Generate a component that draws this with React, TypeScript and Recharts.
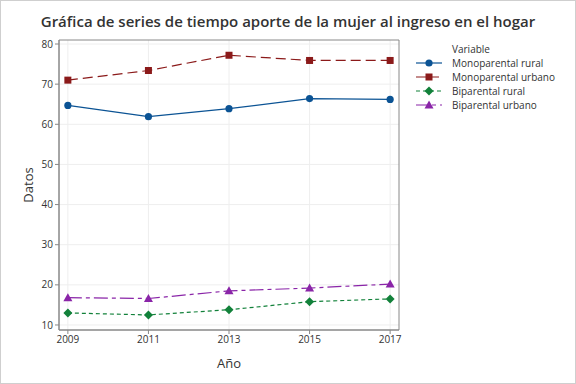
import React from 'react';
import { LineChart, Line, XAxis, YAxis, CartesianGrid, Legend, ReferenceArea, Label } from 'recharts';

const years = [2009, 2011, 2013, 2015, 2017];
const monoRural = [64.7, 61.9, 63.9, 66.4, 66.2];
const monoUrbano = [71.0, 73.4, 77.2, 75.9, 75.9];
const biRural = [13.0, 12.5, 13.8, 15.8, 16.5];
const biUrbano = [16.8, 16.6, 18.5, 19.2, 20.2];
const yTicks = [10, 20, 30, 40, 50, 60, 70, 80];
const seriesNames = ['Monoparental rural', 'Monoparental urbano', 'Biparental rural', 'Biparental urbano'];

const data = years.map((y, i) => ({
  year: y,
  mr: monoRural[i],
  mu: monoUrbano[i],
  br: biRural[i],
  bu: biUrbano[i],
}));

const FONT = '"Open Sans", "Noto Sans", sans-serif';
const TXT = '#333333';

type Shape = 'circle' | 'square' | 'diamond' | 'triangle';

const series: { key: string; name: string; color: string; dash?: string; legendDash?: string; shape: Shape }[] = [
  { key: 'mr', name: seriesNames[0], color: '#0B5394', shape: 'circle' },
  { key: 'mu', name: seriesNames[1], color: '#8B1A1A', dash: '10 5', legendDash: '10 3', shape: 'square' },
  { key: 'br', name: seriesNames[2], color: '#12813A', dash: '4 3', legendDash: '4 3', shape: 'diamond' },
  { key: 'bu', name: seriesNames[3], color: '#8A25A8', dash: '14 4 4 4', legendDash: '12 4 4 4', shape: 'triangle' },
];

function marker(shape: Shape, cx: number, cy: number, color: string, key?: string) {
  if (shape === 'circle') return <circle key={key} cx={cx} cy={cy} r={3.6} fill={color} stroke="none" />;
  if (shape === 'square') return <rect key={key} x={cx - 3.5} y={cy - 3.5} width={7} height={7} fill={color} stroke="none" />;
  if (shape === 'diamond')
    return <polygon key={key} points={`${cx},${cy - 4.5} ${cx + 4.5},${cy} ${cx},${cy + 4.5} ${cx - 4.5},${cy}`} fill={color} stroke="none" />;
  return <polygon key={key} points={`${cx},${cy - 4.5} ${cx + 4.5},${cy + 3.5} ${cx - 4.5},${cy + 3.5}`} fill={color} stroke="none" />;
}

const LegendContent = () => (
  <div style={{ fontFamily: FONT, fontSize: 10, color: TXT, lineHeight: '14px' }}>
    <div style={{ paddingLeft: 38 }}>Variable</div>
    {series.map((s) => (
      <div key={s.key} style={{ display: 'flex', alignItems: 'center', height: 14 }}>
        <svg width={34} height={14} style={{ flex: 'none' }}>
          <line x1={2} x2={28} y1={7} y2={7} stroke={s.color} strokeWidth={1.2} strokeDasharray={s.legendDash} />
          {marker(s.shape, 15, 7, s.color)}
        </svg>
        <span style={{ paddingLeft: 4, whiteSpace: 'nowrap' }}>{s.name}</span>
      </div>
    ))}
  </div>
);

export default function App() {
  return (
    <div style={{ position: 'absolute', left: 0, top: 0, width: 574, height: 382, border: '1px solid #cfcfcf', background: '#fff' }}>
      <div style={{ position: 'absolute', left: 0, top: 10, width: 574, textAlign: 'center', fontFamily: FONT, fontSize: 15, fontWeight: 600, color: TXT }}>
        Gráfica de series de tiempo aporte de la mujer al ingreso en el hogar
      </div>
      <div style={{ position: 'absolute', left: -1, top: -1 }}>
        <LineChart width={576} height={384} data={data} margin={{ top: 40, right: 177, bottom: 0, left: 0 }}>
          <CartesianGrid stroke="#eeeeee" strokeWidth={1} verticalValues={years} horizontalValues={yTicks} />
          <XAxis
            dataKey="year"
            type="number"
            domain={[2008.78, 2017.22]}
            ticks={years}
            height={54}
            tick={{ fontSize: 10, fill: TXT, fontFamily: FONT }}
            tickLine={{ stroke: '#888' }}
            tickSize={4}
            axisLine={{ stroke: '#888' }}
          >
            <Label value="Año" position="insideBottom" offset={16} style={{ fontSize: 13, fill: TXT, fontFamily: FONT }} />
          </XAxis>
          <YAxis
            type="number"
            domain={[8.75, 81]}
            ticks={yTicks}
            width={59}
            tick={{ fontSize: 10, fill: TXT, fontFamily: FONT }}
            tickLine={{ stroke: '#888' }}
            tickSize={4}
            axisLine={{ stroke: '#888' }}
          >
            <Label value="Datos" angle={-90} position="insideLeft" offset={28} style={{ fontSize: 13, fill: TXT, fontFamily: FONT, textAnchor: 'middle' }} />
          </YAxis>
          <ReferenceArea x1={2008.78} x2={2017.22} y1={8.75} y2={81} fill="none" stroke="#888" strokeWidth={1} />
          {series.map((s) => (
            <Line
              key={s.key}
              dataKey={s.key}
              name={s.name}
              stroke={s.color}
              strokeWidth={1.2}
              strokeDasharray={s.dash}
              isAnimationActive={false}
              dot={(p: any) => marker(s.shape, p.cx, p.cy, s.color, `${s.key}-${p.index}`)}
              activeDot={false}
            />
          ))}
          <Legend content={<LegendContent />} layout="vertical" verticalAlign="middle" align="center" wrapperStyle={{ left: 414, top: 42, width: 160 }} />
        </LineChart>
      </div>
    </div>
  );
}
